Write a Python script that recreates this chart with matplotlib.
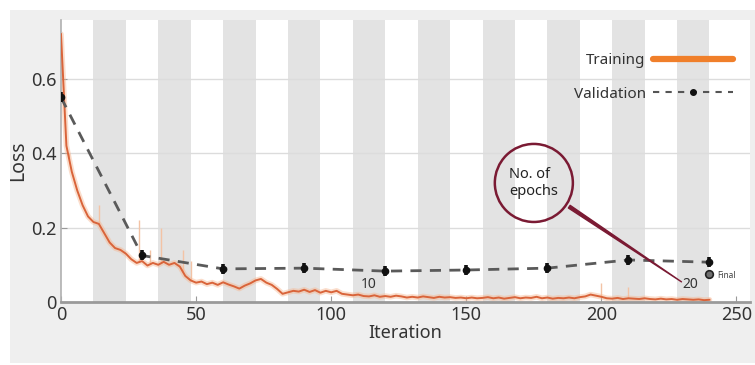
import matplotlib
matplotlib.use('Agg')
import matplotlib.pyplot as plt
import numpy as np

plt.rcParams['font.family'] = ['Noto Sans', 'DejaVu Sans']

####################### DATA ###############################
iters_per_epoch = 12
n_epochs = 20

# smoothed training loss, read every 2 iterations (0..240)
train_iter = np.arange(0, 241, 2)
train_loss = [0.72, 0.42, 0.35, 0.30, 0.26, 0.23, 0.215, 0.21, 0.185, 0.16,
              0.145, 0.14, 0.13, 0.115, 0.105, 0.11, 0.098, 0.105, 0.10, 0.108,
              0.10, 0.105, 0.095, 0.07, 0.058, 0.052, 0.055, 0.048, 0.052, 0.046,
              0.053, 0.047, 0.042, 0.036, 0.044, 0.05, 0.058, 0.062, 0.052, 0.046,
              0.035, 0.022, 0.026, 0.03, 0.028, 0.033, 0.027, 0.032, 0.025, 0.03,
              0.026, 0.03, 0.022, 0.02, 0.018, 0.02, 0.016, 0.015, 0.018, 0.014,
              0.016, 0.014, 0.017, 0.015, 0.012, 0.014, 0.012, 0.015, 0.013, 0.011,
              0.014, 0.012, 0.013, 0.011, 0.012, 0.010, 0.012, 0.010, 0.011, 0.013,
              0.010, 0.012, 0.009, 0.011, 0.013, 0.010, 0.012, 0.011, 0.014, 0.010,
              0.012, 0.009, 0.011, 0.010, 0.012, 0.010, 0.013, 0.015, 0.020, 0.017,
              0.014, 0.010, 0.009, 0.011, 0.008, 0.010, 0.009, 0.008, 0.010, 0.008,
              0.007, 0.009, 0.007, 0.008, 0.006, 0.008, 0.007, 0.006, 0.007, 0.005,
              0.006]

# faint spikes of the raw (unsmoothed) training loss
spike_iter = [3, 14, 29, 33, 37, 45, 48, 200, 210]
spike_top = [0.40, 0.26, 0.22, 0.14, 0.20, 0.14, 0.11, 0.05, 0.04]

# validation loss, evaluated every 30 iterations
val_iter = [0, 30, 60, 90, 120, 150, 180, 210, 240]
val_loss = [0.55, 0.125, 0.089, 0.091, 0.083, 0.086, 0.091, 0.113, 0.107]

final_iter = 240
final_loss = 0.075

epoch_labels = ['10', '20']
epoch_label_x = [114, 233]

x_ticks = [0, 50, 100, 150, 200, 250]
y_ticks = [0, 0.2, 0.4, 0.6]
y_tick_labels = ['0', '0.2', '0.4', '0.6']

####################### PLOT ###############################
fig = plt.figure(figsize=(7.55, 3.65), dpi=100, facecolor='white')
# light grey panel behind the chart
fig.patches.append(plt.Rectangle((10 / 755, 2 / 365), 745 / 755, 353 / 365,
                                 transform=fig.transFigure, fc='#efefef',
                                 ec='none', zorder=-10))
ax = fig.add_axes([61 / 755, 63 / 365, 689 / 755, 282 / 365])
ax.set_facecolor('white')

# epoch shading
for k in range(2, n_epochs + 1, 2):
    ax.axvspan((k - 1) * iters_per_epoch, k * iters_per_epoch,
               color='#e3e3e3', lw=0, zorder=0)

for y in y_ticks[1:]:
    ax.axhline(y, color='#dcdcdc', lw=1, zorder=1)

# training
ax.vlines(spike_iter, np.interp(spike_iter, train_iter, train_loss), spike_top,
          color='#f3c3a5', lw=1, zorder=2)
ax.plot(train_iter, train_loss, color='#f6b690', lw=4, alpha=0.45, zorder=2,
        solid_capstyle='round')
ax.plot(train_iter, train_loss, color='#d9643a', lw=1.4, zorder=3)

# validation
ax.plot(val_iter, val_loss, color='#5a5a5a', lw=2, dashes=(4, 3), zorder=4)
ax.plot(val_iter, val_loss, ls='none', marker='o', ms=4.5, color='#111111',
        zorder=5)
ax.plot(val_iter, val_loss, ls='none', marker='|', ms=7, mew=2.6,
        color='#111111', zorder=5)
ax.plot([final_iter], [final_loss], ls='none', marker='o', ms=5.5,
        mfc='#6f6f6f', mec='#222222', mew=1.2, zorder=5)
ax.text(final_iter + 3, final_loss - 0.005, 'Final', fontsize=6,
        color='#444444', va='center')

for lab, xl in zip(epoch_labels, epoch_label_x):
    ax.text(xl, 0.047, lab, fontsize=10, color='#333333',
            ha='center', va='center', zorder=6)

# callout
ax.annotate('No. of\nepochs', xy=(230.5, 0.05), xytext=(175, 0.32),
            ha='center', va='center', fontsize=10.5, color='#222222',
            multialignment='left', zorder=7,
            bbox=dict(boxstyle='circle,pad=1.0', fc='none', ec='#7a1a33',
                      lw=1.8),
            arrowprops=dict(arrowstyle='wedge,tail_width=0.22,shrink_factor=0.5',
                            fc='#7a1a33', ec='#7a1a33', lw=1))

# legend (text first, handle after)
h_train, = ax.plot([], [], color='#f07f2a', lw=4.5, solid_capstyle='round')
h_val, = ax.plot([], [], color='#555555', lw=1.5, dashes=(3, 3),
                 marker='o', ms=4, mfc='#111111', mec='#111111')
ax.legend([h_train, h_val], ['Training', 'Validation'], loc='upper right',
          bbox_to_anchor=(0.995, 0.93), frameon=False, markerfirst=False,
          fontsize=11, handlelength=5.2, labelspacing=1.2, handletextpad=0.5,
          labelcolor='#333333')

ax.set_xlim(0, 255)
ax.set_ylim(0, 0.758)
ax.set_xticks(x_ticks)
ax.set_yticks(y_ticks)
ax.set_yticklabels(y_tick_labels)
ax.tick_params(direction='in', length=4, color='#999999', labelsize=13,
               labelcolor='#333333', pad=3)
for s in ['top', 'right']:
    ax.spines[s].set_visible(False)
ax.spines['bottom'].set_color('#9a9a9a')
ax.spines['bottom'].set_linewidth(2)
ax.spines['left'].set_color('#b0b0b0')
ax.spines['left'].set_linewidth(1.2)

ax.set_xlabel('Iteration', fontsize=13, color='#333333', labelpad=0)
ax.set_ylabel('Loss', fontsize=14, color='#333333', labelpad=2)

fig.savefig('out.png', dpi=100, facecolor=fig.get_facecolor())
